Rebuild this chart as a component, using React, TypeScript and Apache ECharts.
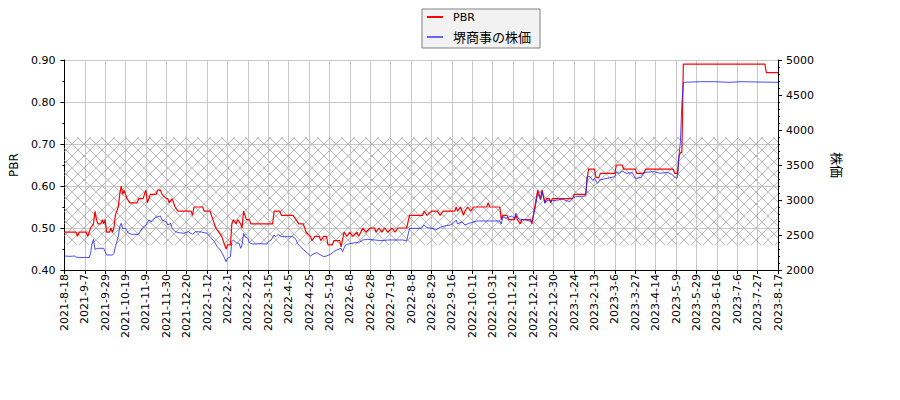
import React, { useEffect, useRef } from "react";
import * as echarts from "echarts";

const xTickLabels = [
  "2021-8-18", "2021-9-7", "2021-9-29", "2021-10-19", "2021-11-9", "2021-11-30",
  "2021-12-20", "2022-1-12", "2022-2-1", "2022-2-22", "2022-3-15", "2022-4-5",
  "2022-4-25", "2022-5-19", "2022-6-8", "2022-6-28", "2022-7-19", "2022-8-8",
  "2022-8-29", "2022-9-16", "2022-10-11", "2022-10-31", "2022-11-21", "2022-12-12",
  "2022-12-30", "2023-1-24", "2023-2-13", "2023-3-6", "2023-3-27", "2023-4-14",
  "2023-5-9", "2023-5-29", "2023-6-16", "2023-7-6", "2023-7-27", "2023-8-17",
];

// trading days between two consecutive tick labels
const DAYS_PER_TICK = 14;

// [trading-day index, PBR]
const pbrPoints: [number, number][] = [
  [0, 0.49], [8, 0.49], [9, 0.48], [10, 0.49], [15, 0.49], [16, 0.48], [17, 0.49], [18, 0.5],
  [20, 0.51], [21, 0.54], [22, 0.52], [23, 0.51], [25, 0.51], [26, 0.52], [27, 0.51], [28, 0.52],
  [29, 0.49], [31, 0.49], [32, 0.5], [33, 0.49], [34, 0.5], [35, 0.53], [37, 0.55], [38, 0.58],
  [39, 0.6], [40, 0.58], [41, 0.59], [42, 0.58], [43, 0.57], [45, 0.56], [50, 0.56], [51, 0.57],
  [54, 0.57], [55, 0.58], [56, 0.59], [57, 0.56], [59, 0.58], [63, 0.58], [64, 0.59], [66, 0.59],
  [67, 0.58], [70, 0.57], [71, 0.57], [72, 0.56], [74, 0.57], [76, 0.55], [78, 0.54], [87, 0.54],
  [88, 0.53], [89, 0.55], [95, 0.55], [96, 0.54], [100, 0.54], [102, 0.52], [104, 0.5], [106, 0.49],
  [108, 0.48], [109, 0.47], [111, 0.45], [112, 0.46], [114, 0.46], [115, 0.51], [116, 0.52],
  [118, 0.51], [119, 0.52], [121, 0.51], [122, 0.5], [123, 0.54], [125, 0.52], [127, 0.52],
  [128, 0.51], [143, 0.51], [144, 0.54], [148, 0.54], [149, 0.53], [157, 0.53], [159, 0.52],
  [161, 0.51], [164, 0.51], [166, 0.49], [169, 0.48], [170, 0.47], [172, 0.48], [175, 0.48],
  [176, 0.47], [178, 0.48], [180, 0.48], [181, 0.46], [184, 0.46], [185, 0.47], [189, 0.47],
  [190, 0.455], [192, 0.49], [194, 0.48], [196, 0.49], [198, 0.48], [201, 0.49], [202, 0.48],
  [205, 0.5], [207, 0.49], [210, 0.5], [213, 0.5], [214, 0.49], [216, 0.5], [218, 0.49],
  [220, 0.5], [222, 0.49], [225, 0.5], [227, 0.49], [229, 0.5], [235, 0.5], [237, 0.53],
  [246, 0.53], [247, 0.54], [249, 0.53], [252, 0.54], [256, 0.54], [258, 0.53], [260, 0.54],
  [268, 0.54], [269, 0.55], [270, 0.54], [272, 0.55], [274, 0.53], [275, 0.54], [277, 0.55],
  [279, 0.54], [281, 0.55], [290, 0.55], [291, 0.56], [292, 0.55], [299, 0.55], [300, 0.52],
  [301, 0.53], [304, 0.53], [305, 0.52], [309, 0.52], [310, 0.53], [311, 0.52], [313, 0.51],
  [314, 0.52], [320, 0.52], [321, 0.51], [322, 0.53], [324, 0.57], [325, 0.59], [327, 0.57],
  [328, 0.59], [330, 0.56], [331, 0.57], [333, 0.57], [334, 0.56], [335, 0.57], [349, 0.57],
  [350, 0.58], [358, 0.58], [359, 0.62], [360, 0.64], [364, 0.64], [365, 0.62], [367, 0.62],
  [368, 0.63], [378, 0.63], [379, 0.65], [383, 0.65], [384, 0.64], [392, 0.64], [393, 0.63],
  [398, 0.63], [399, 0.64], [418, 0.64], [419, 0.63], [421, 0.63], [422, 0.67], [423, 0.68],
  [424, 0.68], [425, 0.89], [481, 0.89], [482, 0.87], [490, 0.87],
];

// [trading-day index, share price]
const pricePoints: [number, number][] = [
  [0, 2200], [4, 2195], [7, 2200], [8, 2185], [10, 2176], [14, 2180], [17, 2176], [18, 2238],
  [19, 2381], [20, 2438], [21, 2295], [23, 2310], [27, 2310], [28, 2262], [29, 2214], [33, 2214],
  [34, 2238], [35, 2333], [37, 2476], [38, 2619], [39, 2667], [40, 2595], [42, 2595], [44, 2524],
  [46, 2510], [51, 2510], [52, 2548], [54, 2610], [56, 2643], [58, 2714], [60, 2690], [62, 2738],
  [64, 2762], [66, 2771], [67, 2714], [70, 2690], [71, 2643], [73, 2667], [74, 2595], [76, 2548],
  [79, 2533], [82, 2524], [85, 2548], [88, 2510], [90, 2548], [94, 2543], [98, 2524], [100, 2476],
  [103, 2405], [105, 2333], [107, 2286], [109, 2214], [111, 2119], [112, 2167], [114, 2190],
  [115, 2405], [116, 2429], [118, 2390], [120, 2381], [121, 2310], [122, 2357], [123, 2524],
  [124, 2476], [126, 2452], [127, 2390], [129, 2371], [134, 2376], [139, 2371], [140, 2405],
  [142, 2429], [144, 2500], [145, 2476], [147, 2510], [148, 2486], [150, 2476], [157, 2476],
  [159, 2438], [160, 2381], [162, 2333], [164, 2295], [167, 2238], [169, 2200], [171, 2229],
  [173, 2248], [176, 2214], [178, 2190], [180, 2200], [183, 2229], [185, 2262], [187, 2286],
  [190, 2310], [191, 2262], [193, 2357], [195, 2371], [199, 2390], [202, 2390], [205, 2429],
  [208, 2438], [213, 2429], [218, 2419], [222, 2429], [227, 2429], [232, 2429], [235, 2419],
  [237, 2595], [245, 2595], [247, 2643], [249, 2605], [253, 2595], [255, 2571], [258, 2610],
  [261, 2629], [265, 2643], [267, 2667], [269, 2714], [270, 2657], [273, 2690], [275, 2643],
  [278, 2667], [283, 2700], [299, 2700], [300, 2657], [301, 2762], [303, 2738], [307, 2771],
  [309, 2738], [310, 2810], [312, 2729], [317, 2714], [321, 2690], [323, 2857], [325, 3095],
  [327, 3000], [328, 3119], [330, 2952], [332, 3000], [335, 2990], [339, 3000], [342, 3010],
  [347, 2976], [349, 3024], [351, 3048], [358, 3057], [359, 3333], [361, 3333], [363, 3276],
  [364, 3310], [366, 3238], [368, 3290], [373, 3310], [378, 3333], [379, 3405], [381, 3381],
  [383, 3414], [386, 3381], [390, 3390], [392, 3310], [396, 3319], [398, 3395], [405, 3405],
  [409, 3381], [414, 3395], [417, 3367], [420, 3310], [421, 3319], [422, 3643], [423, 3833],
  [424, 4381], [425, 4681], [437, 4690], [446, 4690], [457, 4681], [464, 4690], [475, 4686],
  [490, 4681],
];

// hatched PBR band [low, high]
const hatchBand: [number, number] = [0.46, 0.716];

const seriesNames = ["PBR", "堺商事の株価"];

const FONT = '"DejaVu Sans", "Noto Sans CJK JP", sans-serif';
const GRID_COLOR = "#c8c8c8";

function renderHatch(params: any, api: any) {
  const lo = api.value(1);
  const hi = api.value(2);
  const cs = params.coordSys;
  const yTop = api.coord([0, hi])[1];
  const yBot = api.coord([0, lo])[1];
  const x0 = cs.x;
  const x1 = cs.x + cs.width;
  const step = 12;
  const style = { stroke: "#b0b0b0", lineWidth: 0.9, fill: null };
  const children: any[] = [];
  for (let c = Math.floor((yTop - x1) / step) * step; c <= yBot - x0; c += step) {
    const xa = Math.max(x0, yTop - c);
    const xb = Math.min(x1, yBot - c);
    if (xb > xa) children.push({ type: "line", shape: { x1: xa, y1: xa + c, x2: xb, y2: xb + c }, style });
  }
  for (let c = Math.floor((x0 + yTop) / step) * step; c <= x1 + yBot; c += step) {
    const xa = Math.max(x0, c - yBot);
    const xb = Math.min(x1, c - yTop);
    if (xb > xa) children.push({ type: "line", shape: { x1: xa, y1: c - xa, x2: xb, y2: c - xb }, style });
  }
  return { type: "group", children, silent: true };
}

export default function App() {
  const ref = useRef<HTMLDivElement>(null);
  useEffect(() => {
    if (!ref.current) return;
    const chart = echarts.init(ref.current, undefined, { renderer: "svg" });
    const axisLine = { show: true, lineStyle: { color: "#000", width: 1 } };
    const axisTick = { show: true, length: 4, lineStyle: { color: "#000" } };
    const option: any = {
      animation: false,
      backgroundColor: "#ffffff",
      textStyle: { fontFamily: FONT },
      grid: { left: 61, right: 122, top: 60, bottom: 130 },
      legend: {
        orient: "vertical",
        left: 422,
        top: 9,
        padding: [1, 9, 4, 5],
        itemGap: 6,
        itemWidth: 16,
        itemHeight: 2,
        icon: "rect",
        backgroundColor: "#f2f2f2",
        borderColor: "#808080",
        borderWidth: 1,
        borderRadius: 0,
        textStyle: { fontFamily: FONT, color: "#000", padding: [0, 0, 0, 5], lineHeight: 14 },
        data: [
          { name: seriesNames[0], textStyle: { fontSize: 11 } },
          { name: seriesNames[1], textStyle: { fontSize: 13 } },
        ],
      },
      xAxis: {
        type: "value",
        min: 0,
        max: (xTickLabels.length - 1) * DAYS_PER_TICK,
        interval: DAYS_PER_TICK,
        axisLine,
        axisTick,
        axisLabel: {
          rotate: 90,
          fontSize: 11,
          color: "#000",
          margin: 4,
          fontFamily: FONT,
          formatter: (v: number) => xTickLabels[Math.round(v / DAYS_PER_TICK)] ?? "",
        },
        splitLine: { show: true, lineStyle: { color: GRID_COLOR, width: 1 } },
      },
      yAxis: [
        {
          type: "value",
          min: 0.4,
          max: 0.9,
          interval: 0.1,
          name: "PBR",
          nameLocation: "middle",
          nameRotate: 90,
          nameGap: 38,
          nameTextStyle: { fontSize: 12, color: "#000", fontFamily: FONT },
          axisLine,
          axisTick,
          minorTick: { show: true, splitNumber: 2, length: 2, lineStyle: { color: "#000" } },
          axisLabel: { fontSize: 11, color: "#000", margin: 9, fontFamily: FONT, formatter: (v: number) => v.toFixed(2) },
          splitLine: { show: true, lineStyle: { color: GRID_COLOR, width: 1 } },
        },
        {
          type: "value",
          position: "right",
          min: 2000,
          max: 5000,
          interval: 500,
          name: "株価",
          nameLocation: "middle",
          nameRotate: -90,
          nameGap: 52,
          nameTextStyle: { fontSize: 13, color: "#000", fontFamily: FONT },
          axisLine,
          axisTick,
          minorTick: { show: true, splitNumber: 5, length: 2, lineStyle: { color: "#000" } },
          axisLabel: { fontSize: 11, color: "#000", margin: 8, fontFamily: FONT, formatter: (v: number) => String(v) },
          splitLine: { show: false },
        },
      ],
      series: [
        {
          type: "custom",
          name: "hatch",
          xAxisIndex: 0,
          yAxisIndex: 0,
          renderItem: renderHatch,
          data: [[0, hatchBand[0], hatchBand[1]]],
          encode: { x: 0, y: [1, 2] },
          silent: true,
          z: 1,
        },
        {
          type: "line",
          name: seriesNames[0],
          yAxisIndex: 0,
          data: pbrPoints,
          showSymbol: false,
          symbol: "none",
          lineStyle: { color: "#ff0000", width: 1.2 },
          itemStyle: { color: "#ff0000" },
          z: 3,
        },
        {
          type: "line",
          name: seriesNames[1],
          yAxisIndex: 1,
          data: pricePoints,
          showSymbol: false,
          symbol: "none",
          lineStyle: { color: "rgba(30,30,255,0.8)", width: 1 },
          itemStyle: { color: "rgba(40,40,255,0.7)" },
          z: 4,
        },
      ],
    };
    chart.setOption(option);
    return () => chart.dispose();
  }, []);
  return (
    <div
      ref={ref}
      style={{ position: "fixed", left: 0, top: 0, width: 900, height: 400, background: "#fff" }}
    />
  );
}
